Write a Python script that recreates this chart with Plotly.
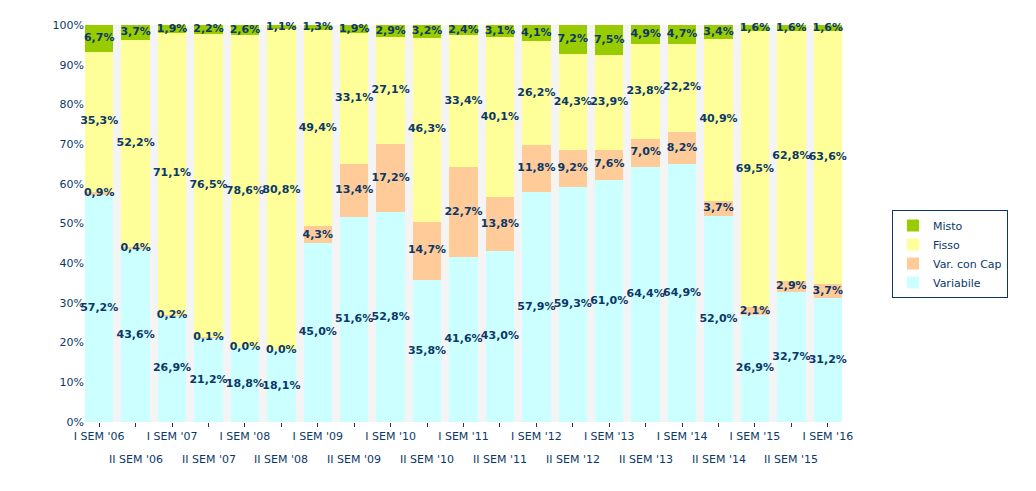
import plotly.graph_objects as go

categories = ["I SEM '06", "II SEM '06", "I SEM '07", "II SEM '07", "I SEM '08", "II SEM '08",
              "I SEM '09", "II SEM '09", "I SEM '10", "II SEM '10", "I SEM '11", "II SEM '11",
              "I SEM '12", "II SEM '12", "I SEM '13", "II SEM '13", "I SEM '14", "II SEM '14",
              "I SEM '15", "II SEM '15", "I SEM '16"]

variabile = [57.2, 43.6, 26.9, 21.2, 18.8, 18.1, 45.0, 51.6, 52.8, 35.8, 41.6, 43.0,
             57.9, 59.3, 61.0, 64.4, 64.9, 52.0, 26.9, 32.7, 31.2]
var_con_cap = [0.9, 0.4, 0.2, 0.1, 0.0, 0.0, 4.3, 13.4, 17.2, 14.7, 22.7, 13.8,
               11.8, 9.2, 7.6, 7.0, 8.2, 3.7, 2.1, 2.9, 3.7]
fisso = [35.3, 52.2, 71.1, 76.5, 78.6, 80.8, 49.4, 33.1, 27.1, 46.3, 33.4, 40.1,
         26.2, 24.3, 23.9, 23.8, 22.2, 40.9, 69.5, 62.8, 63.6]
misto = [6.7, 3.7, 1.9, 2.2, 2.6, 1.1, 1.3, 1.9, 2.9, 3.2, 2.4, 3.1,
         4.1, 7.2, 7.5, 4.9, 4.7, 3.4, 1.6, 1.6, 1.6]

series = [("Variabile", variabile, "#CCFFFF"),
          ("Var. con Cap", var_con_cap, "#FFCC99"),
          ("Fisso", fisso, "#FFFF99"),
          ("Misto", misto, "#99CC00")]

NAVY = "#0B3868"
idx = list(range(len(categories)))

fig = go.Figure()
for name, vals, col in series:
    fig.add_trace(go.Bar(x=idx, y=vals, name=name, marker=dict(color=col, line=dict(width=0)),
                         width=0.78, hoverinfo="skip"))

# labels at segment midpoints (normalized to 100%)
lx, ly, lt = [], [], []
for i in idx:
    tot = sum(s[1][i] for s in series)
    base = 0.0
    for name, vals, col in series:
        v = vals[i] / tot * 100
        lx.append(i)
        ly.append(base + v / 2)
        lt.append(f"{vals[i]:.1f}%".replace(".", ","))
        base += v
fig.add_trace(go.Scatter(x=lx, y=ly, text=lt, mode="text", showlegend=False,
                         textfont=dict(family="DejaVu Sans", size=11, color=NAVY),
                         texttemplate="<b>%{text}</b>", hoverinfo="skip", cliponaxis=False))

ticktext = [c if i % 2 == 0 else "" for i, c in enumerate(categories)]
for i, c in enumerate(categories):
    if i % 2 == 1:
        fig.add_annotation(x=i, y=0, xref="x", yref="paper", text=c, showarrow=False,
                           yanchor="middle", yshift=-37,
                           font=dict(family="DejaVu Sans", size=11, color=NAVY))

fig.update_layout(
    barmode="stack", barnorm="percent",
    width=1020, height=475,
    margin=dict(l=77, r=186, t=17, b=61),
    paper_bgcolor="white", plot_bgcolor="#F4F4F4",
    font=dict(family="DejaVu Sans", size=11, color=NAVY),
    bargap=0.22,
    xaxis=dict(range=[-0.39, 20.39], tickmode="array", tickvals=idx, ticktext=ticktext,
               ticks="outside", ticklen=4, tickcolor="#333333", showgrid=False, zeroline=False,
               showline=False, tickfont=dict(family="DejaVu Sans", size=11, color=NAVY)),
    yaxis=dict(range=[0, 100], tickvals=list(range(0, 101, 10)),
               ticktext=[f"{v}%" for v in range(0, 101, 10)], showgrid=False, zeroline=False,
               showline=False, ticks="", tickfont=dict(family="DejaVu Sans", size=11, color=NAVY)),
    legend=dict(x=1.066, y=0.534, xanchor="left", yanchor="top", traceorder="reversed",
                bordercolor=NAVY, borderwidth=1, bgcolor="white", tracegroupgap=0,
                font=dict(family="DejaVu Sans", size=11, color=NAVY)),
)

fig.write_html("out.html")
